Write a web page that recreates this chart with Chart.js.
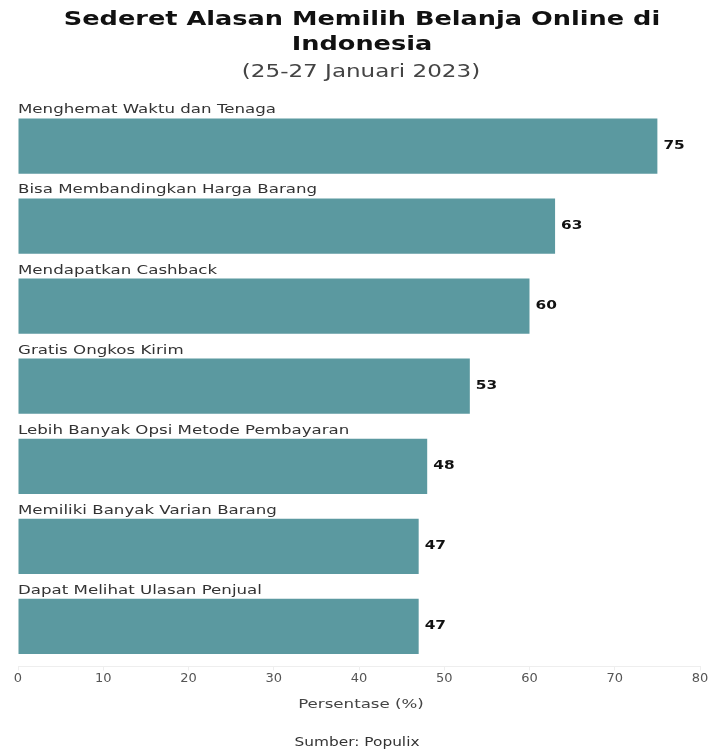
<!DOCTYPE html>
<html>
<head>
<meta charset="utf-8">
<script src="https://cdn.jsdelivr.net/npm/chart.js@4"></script>
<style>
  html, body { margin: 0; padding: 0; background: #ffffff; }
  #wrap { width: 713px; height: 754px; }
</style>
</head>
<body>
<div id="wrap"><canvas id="reasonChart" width="713" height="754"></canvas></div>
<script>
var categories = [
    'Menghemat Waktu dan Tenaga',
    'Bisa Membandingkan Harga Barang',
    'Mendapatkan Cashback',
    'Gratis Ongkos Kirim',
    'Lebih Banyak Opsi Metode Pembayaran',
    'Memiliki Banyak Varian Barang',
    'Dapat Melihat Ulasan Penjual'
];
var percentages = [75, 63, 60, 53, 48, 47, 47];
var xTicks = [0, 10, 20, 30, 40, 50, 60, 70, 80];
var titleLines = ['Sederet Alasan Memilih Belanja Online di', 'Indonesia'];
var subtitleText = '(25-27 Januari 2023)';
var axisTitleText = 'Persentase (%)';
var sourceText = 'Sumber: Populix';

var fontFamily = '"DejaVu Sans", Verdana, sans-serif';
// the original text is set in a wide face, so stretch it sideways a little
var stretch = 1.28;

function wideText(ctx, text, x, y, font, color, align, baseline) {
    ctx.save();
    ctx.font = font;
    ctx.fillStyle = color;
    ctx.textAlign = align;
    ctx.textBaseline = baseline;
    ctx.translate(x, y);
    ctx.scale(stretch, 1);
    ctx.fillText(text, 0, 0);
    ctx.restore();
}

var textLayer = {
    id: 'textLayer',
    afterDatasetsDraw: function(chart) {
        var ctx = chart.ctx;
        var area = chart.chartArea;
        var meta = chart.getDatasetMeta(0);

        wideText(ctx, titleLines[0], 362, 20, 'bold 20px ' + fontFamily, '#111111', 'center', 'middle');
        wideText(ctx, titleLines[1], 362, 45, 'bold 20px ' + fontFamily, '#111111', 'center', 'middle');
        wideText(ctx, subtitleText, 361, 72, '18px ' + fontFamily, '#444444', 'center', 'middle');

        meta.data.forEach(function(bar, i) {
            wideText(ctx, categories[i], area.left, bar.y - bar.height / 2 - 5,
                '13px ' + fontFamily, '#333333', 'left', 'alphabetic');
            wideText(ctx, String(percentages[i]), bar.x + 6, bar.y,
                'bold 12px ' + fontFamily, '#111111', 'left', 'middle');
        });

        wideText(ctx, axisTitleText, 361, 705, '13px ' + fontFamily, '#444444', 'center', 'middle');
        wideText(ctx, sourceText, 357, 743, '12px ' + fontFamily, '#333333', 'center', 'middle');
    }
};

document.addEventListener('DOMContentLoaded', function() {
    var ctx = document.getElementById('reasonChart').getContext('2d');
    new Chart(ctx, {
        type: 'bar',
        data: {
            labels: categories,
            datasets: [{
                label: 'Persentase',
                data: percentages,
                backgroundColor: '#5b99a0',
                borderWidth: 0,
                categoryPercentage: 1.0,
                barPercentage: 0.69
            }]
        },
        options: {
            indexAxis: 'y',
            responsive: false,
            animation: false,
            layout: {
                padding: { left: 18, right: 13, top: 106, bottom: 68 }
            },
            plugins: {
                legend: { display: false },
                tooltip: { enabled: false },
                title: { display: false }
            },
            scales: {
                x: {
                    min: 0,
                    max: 80,
                    afterBuildTicks: function(scale) {
                        scale.ticks = xTicks.map(function(v) { return { value: v }; });
                    },
                    grid: {
                        display: true,
                        drawOnChartArea: false,
                        drawTicks: true,
                        tickLength: 4,
                        color: '#eeeeee'
                    },
                    border: { display: true, color: '#eeeeee' },
                    ticks: {
                        color: '#555555',
                        padding: 0,
                        font: { family: fontFamily, size: 13 }
                    }
                },
                y: {
                    display: false
                }
            }
        },
        plugins: [textLayer]
    });
});
</script>
</body>
</html>
